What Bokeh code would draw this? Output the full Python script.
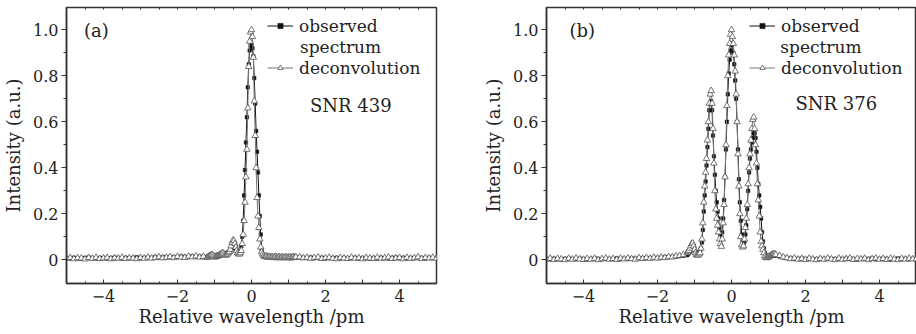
import numpy as np
from bokeh.plotting import figure
from bokeh.layouts import row
from bokeh.models import (FixedTicker, Legend, LegendItem, Label, Range1d, PrintfTickFormatter,
                          LinearAxis)
from bokeh.embed import file_html
from bokeh.resources import INLINE

# ---------------- data ----------------
x_left = np.round(np.arange(-5.0, -1.25, 0.1), 3)      # 38 points
x_center = np.round(np.arange(-1.2, 1.2001, 0.025), 3) # 97 points
x_right = np.round(np.arange(1.3, 5.05, 0.1), 3)       # 38 points

# panel (a)
obs_a_left = [0.008, 0.006, 0.009, 0.007, 0.005, 0.008, 0.010, 0.007, 0.006, 0.008,
              0.009, 0.006, 0.007, 0.010, 0.008, 0.006, 0.009, 0.007, 0.008, 0.011,
              0.007, 0.009, 0.010, 0.008, 0.012, 0.009, 0.011, 0.010, 0.013, 0.011,
              0.012, 0.014, 0.012, 0.013, 0.015, 0.013, 0.014, 0.012]
obs_a_center = [0.012, 0.015, 0.014, 0.018, 0.020, 0.020, 0.018, 0.016,
                0.015, 0.017, 0.020, 0.022, 0.020, 0.018, 0.020, 0.024,
                0.028, 0.030, 0.028, 0.026, 0.025, 0.028, 0.030, 0.033,
                0.036, 0.040, 0.045, 0.050, 0.055, 0.058, 0.055, 0.050,
                0.045, 0.040, 0.035, 0.032, 0.035, 0.060, 0.100, 0.170,
                0.28, 0.39, 0.51, 0.62, 0.75, 0.85, 0.91, 0.93,
                0.935, 0.92, 0.885, 0.79, 0.68, 0.56, 0.47, 0.38,
                0.28, 0.19, 0.11, 0.045, 0.020, 0.015, 0.012, 0.012,
                0.013, 0.014, 0.012, 0.011, 0.013, 0.012, 0.010, 0.012,
                0.011, 0.013, 0.012, 0.010, 0.011, 0.012, 0.010, 0.011,
                0.012, 0.010, 0.011, 0.009, 0.011, 0.010, 0.012, 0.010,
                0.009, 0.011, 0.010, 0.008, 0.010, 0.011, 0.009, 0.010,
                0.011]
obs_a_right = [0.010, 0.009, 0.008, 0.010, 0.007, 0.008, 0.009, 0.006, 0.008, 0.007,
               0.009, 0.006, 0.008, 0.005, 0.007, 0.009, 0.006, 0.008, 0.007, 0.005,
               0.008, 0.006, 0.009, 0.007, 0.006, 0.008, 0.010, 0.007, 0.009, 0.006,
               0.008, 0.007, 0.010, 0.008, 0.006, 0.009, 0.007, 0.008]

dec_a_left = [0.006, 0.009, 0.004, 0.008, 0.007, 0.003, 0.009, 0.006, 0.010, 0.005,
              0.007, 0.009, 0.004, 0.008, 0.006, 0.010, 0.005, 0.008, 0.007, 0.004,
              0.009, 0.006, 0.011, 0.007, 0.009, 0.012, 0.008, 0.010, 0.013, 0.009,
              0.014, 0.011, 0.010, 0.015, 0.012, 0.016, 0.011, 0.014]
dec_a_center = [0.010, 0.012, 0.015, 0.018, 0.020, 0.022, 0.020, 0.016,
                0.012, 0.012, 0.014, 0.016, 0.018, 0.020, 0.022, 0.025,
                0.028, 0.030, 0.025, 0.020, 0.020, 0.022, 0.025, 0.030,
                0.035, 0.045, 0.060, 0.075, 0.085, 0.082, 0.070, 0.055,
                0.040, 0.030, 0.025, 0.025, 0.030, 0.040, 0.070, 0.110,
                0.17, 0.25, 0.36, 0.48, 0.66, 0.84, 0.95, 0.99,
                1.0, 0.97, 0.88, 0.69, 0.54, 0.40, 0.27, 0.19,
                0.14, 0.09, 0.055, 0.035, 0.025, 0.018, 0.015, 0.014,
                0.016, 0.013, 0.011, 0.014, 0.012, 0.010, 0.013, 0.011,
                0.009, 0.012, 0.014, 0.010, 0.008, 0.011, 0.013, 0.009,
                0.010, 0.012, 0.008, 0.011, 0.009, 0.013, 0.010, 0.008,
                0.011, 0.009, 0.012, 0.008, 0.010, 0.013, 0.009, 0.011,
                0.012]
dec_a_right = [0.012, 0.008, 0.010, 0.006, 0.009, 0.011, 0.005, 0.008, 0.010, 0.006,
               0.004, 0.009, 0.007, 0.005, 0.010, 0.006, 0.008, 0.004, 0.009, 0.007,
               0.005, 0.010, 0.006, 0.008, 0.011, 0.005, 0.007, 0.009, 0.004, 0.010,
               0.006, 0.008, 0.012, 0.005, 0.009, 0.007, 0.010, 0.006]

# panel (b)
obs_b_left = [0.004, 0.002, 0.005, 0.003, 0.001, 0.004, 0.006, 0.003, 0.002, 0.005,
              0.004, 0.001, 0.003, 0.006, 0.004, 0.002, 0.005, 0.003, 0.004, 0.006,
              0.003, 0.005, 0.004, 0.006, 0.005, 0.007, 0.006, 0.008, 0.007, 0.009,
              0.008, 0.010, 0.011, 0.012, 0.013, 0.014, 0.016, 0.018]
obs_b_center = [0.020, 0.025, 0.030, 0.035, 0.045, 0.050, 0.050, 0.045,
                0.040, 0.035, 0.030, 0.030, 0.030, 0.035, 0.040, 0.050,
                0.075, 0.13, 0.21, 0.28, 0.34, 0.41, 0.49, 0.57,
                0.65, 0.68, 0.69, 0.65, 0.54, 0.45, 0.37, 0.30,
                0.25, 0.21, 0.18, 0.14, 0.11, 0.10, 0.12, 0.18,
                0.26, 0.36, 0.48, 0.60, 0.72, 0.81, 0.87, 0.91,
                0.935, 0.94, 0.90, 0.85, 0.78, 0.70, 0.60, 0.48,
                0.35, 0.25, 0.17, 0.11, 0.08, 0.07, 0.08, 0.11,
                0.15, 0.22, 0.30, 0.38, 0.44, 0.48, 0.51, 0.53,
                0.55, 0.55, 0.53, 0.47, 0.40, 0.33, 0.28, 0.23,
                0.18, 0.12, 0.08, 0.05, 0.03, 0.02, 0.015, 0.012,
                0.010, 0.012, 0.015, 0.018, 0.020, 0.022, 0.022, 0.020,
                0.018]
obs_b_right = [0.014, 0.010, 0.008, 0.006, 0.005, 0.004, 0.006, 0.003, 0.005, 0.004,
               0.002, 0.005, 0.003, 0.006, 0.004, 0.002, 0.005, 0.003, 0.004, 0.006,
               0.003, 0.001, 0.004, 0.005, 0.003, 0.006, 0.002, 0.004, 0.005, 0.003,
               0.001, 0.004, 0.006, 0.003, 0.005, 0.002, 0.004, 0.003]

dec_b_left = [0.002, 0.006, 0.001, 0.005, 0.003, 0.000, 0.006, 0.002, 0.007, 0.003,
              0.001, 0.005, 0.002, 0.006, 0.000, 0.004, 0.007, 0.002, 0.005, 0.001,
              0.006, 0.003, 0.007, 0.004, 0.002, 0.008, 0.005, 0.009, 0.006, 0.010,
              0.007, 0.011, 0.009, 0.013, 0.012, 0.016, 0.018, 0.022]
dec_b_center = [0.030, 0.035, 0.040, 0.050, 0.060, 0.070, 0.072, 0.060,
                0.045, 0.030, 0.022, 0.020, 0.020, 0.025, 0.030, 0.050,
                0.09, 0.16, 0.25, 0.32, 0.38, 0.44, 0.52, 0.60,
                0.68, 0.72, 0.735, 0.68, 0.57, 0.42, 0.30, 0.22,
                0.18, 0.15, 0.12, 0.09, 0.07, 0.058, 0.09, 0.16,
                0.24, 0.36, 0.50, 0.67, 0.80, 0.89, 0.94, 0.98,
                1.0, 0.97, 0.94, 0.89, 0.82, 0.72, 0.60, 0.46,
                0.32, 0.20, 0.10, 0.065, 0.055, 0.06, 0.09, 0.14,
                0.18, 0.24, 0.33, 0.40, 0.46, 0.52, 0.57, 0.61,
                0.62, 0.57, 0.50, 0.42, 0.33, 0.26, 0.19, 0.12,
                0.08, 0.06, 0.045, 0.03, 0.015, 0.010, 0.008, 0.010,
                0.012, 0.015, 0.018, 0.020, 0.022, 0.025, 0.026, 0.025,
                0.022]
dec_b_right = [0.018, 0.012, 0.008, 0.004, 0.007, 0.002, 0.005, 0.001, 0.006, 0.003,
               0.000, 0.005, 0.002, 0.007, 0.003, 0.000, 0.006, 0.002, 0.004, 0.007,
               0.001, 0.005, 0.003, 0.006, 0.000, 0.004, 0.007, 0.002, 0.005, 0.001,
               0.006, 0.003, 0.000, 0.005, 0.002, 0.006, 0.003, 0.004]

x_major = [-5, -4, -3, -2, -1, 0, 1, 2, 3, 4, 5]
x_minor = [-4.5, -3.5, -2.5, -1.5, -0.5, 0.5, 1.5, 2.5, 3.5, 4.5]
x_labels = {-5: "", -4: "\u22124", -3: "", -2: "\u22122", -1: "", 0: "0",
            1: "", 2: "2", 3: "", 4: "4", 5: ""}
top_labels = {t: "" for t in x_major}
y_major = [0, 0.2, 0.4, 0.6, 0.8, 1.0]
y_minor = [0.1, 0.3, 0.5, 0.7, 0.9]
y_labels = {0: "0"}

panels = [
    dict(tag="(a)", snr="SNR 439",
         obs=obs_a_left + obs_a_center + obs_a_right,
         dec=dec_a_left + dec_a_center + dec_a_right),
    dict(tag="(b)", snr="SNR 376",
         obs=obs_b_left + obs_b_center + obs_b_right,
         dec=dec_b_left + dec_b_center + dec_b_right),
]

FONT = "DejaVu Serif"
TXT = "#222222"
AX = "#333333"
x_all = list(x_left) + list(x_center) + list(x_right)


def make_panel(d, width, border_left, border_right, tag_x, snr_x, snr_y, spec_x, leg_dx):
    p = figure(width=width, height=334, output_backend="svg", toolbar_location=None,
               x_range=Range1d(-5, 5), y_range=Range1d(-0.103, 1.097),
               min_border_left=border_left, min_border_right=border_right,
               min_border_top=7, min_border_bottom=51,
               background_fill_color="white", border_fill_color="white")
    p.outline_line_color = AX
    p.outline_line_width = 1.5
    p.grid.visible = False

    xa = p.xaxis[0]
    xa.ticker = FixedTicker(ticks=x_major, minor_ticks=x_minor)
    xa.major_label_overrides = x_labels
    xa.major_tick_in = 4
    xa.major_tick_out = 0
    xa.minor_tick_in = 2
    xa.minor_tick_out = 0
    xa.axis_line_color = AX
    xa.axis_line_width = 1.5
    xa.major_tick_line_color = AX
    xa.minor_tick_line_color = AX
    xa.major_label_text_font = FONT
    xa.major_label_text_font_size = "16px"
    xa.major_label_text_color = TXT
    xa.major_label_standoff = 6
    xa.axis_label = "Relative wavelength /pm"
    xa.axis_label_text_font = FONT
    xa.axis_label_text_font_size = "18px"
    xa.axis_label_text_font_style = "normal"
    xa.axis_label_text_color = TXT
    xa.axis_label_standoff = 1

    top = LinearAxis(ticker=FixedTicker(ticks=x_major, minor_ticks=x_minor),
                     major_tick_in=2, major_tick_out=0, minor_tick_in=2, minor_tick_out=0,
                     major_label_overrides=top_labels,
                     major_label_text_font_size="2px", major_label_standoff=0,
                     axis_line_color=None, major_tick_line_color=AX,
                     minor_tick_line_color=AX)
    p.add_layout(top, "above")

    ya = p.yaxis[0]
    ya.ticker = FixedTicker(ticks=y_major, minor_ticks=y_minor)
    ya.formatter = PrintfTickFormatter(format="%.1f")
    ya.major_label_overrides = y_labels
    ya.major_tick_in = 0
    ya.major_tick_out = 5
    ya.minor_tick_in = 0
    ya.minor_tick_out = 3
    ya.axis_line_color = AX
    ya.axis_line_width = 1.5
    ya.major_tick_line_color = AX
    ya.minor_tick_line_color = AX
    ya.major_label_text_font = FONT
    ya.major_label_text_font_size = "16px"
    ya.major_label_text_color = TXT
    ya.major_label_standoff = 3
    ya.axis_label = "Intensity (a.u.)"
    ya.axis_label_text_font = FONT
    ya.axis_label_text_font_size = "18px"
    ya.axis_label_text_font_style = "normal"
    ya.axis_label_text_color = TXT
    ya.axis_label_standoff = 6

    obs_line = p.line(x_all, d["obs"], line_color="#111111", line_width=1)
    obs_pts = p.scatter(x_all, d["obs"], marker="square", size=3.5,
                        fill_color="#111111", line_color="#111111", line_width=0.5)
    dec_line = p.line(x_all, d["dec"], line_color="#777777", line_width=1)
    dec_pts = p.scatter(x_all, d["dec"], marker="triangle", size=6.5,
                        fill_color="white", line_color="#555555", line_width=0.8)

    legend = Legend(items=[LegendItem(label="observed", renderers=[obs_line, obs_pts]),
                           LegendItem(label="deconvolution", renderers=[dec_line, dec_pts])],
                    location=(leg_dx, 205), orientation="vertical",
                    padding=0, margin=0, spacing=21, label_height=21, glyph_height=13,
                    glyph_width=26, label_standoff=6,
                    border_line_alpha=0, background_fill_alpha=0,
                    label_text_font=FONT, label_text_font_size="17px",
                    label_text_color=TXT)
    p.add_layout(legend)

    p.add_layout(Label(x=spec_x, y=0.925, text="spectrum", text_font=FONT,
                       text_font_size="17px", text_color=TXT, text_baseline="alphabetic"))
    p.add_layout(Label(x=tag_x, y=0.995, text=d["tag"], text_font=FONT,
                       text_font_size="18px", text_color=TXT, text_baseline="alphabetic"))
    p.add_layout(Label(x=snr_x, y=snr_y, text=d["snr"], text_font=FONT,
                       text_font_size="18px", text_color=TXT, text_baseline="alphabetic"))
    return p


pa = make_panel(panels[0], 456, 66, 20, -4.53, 1.58, 0.672, 1.31, 201)
pb = make_panel(panels[1], 460, 90, 0, -4.38, 1.73, 0.681, 1.32, 203)

layout = row(pa, pb, spacing=0)
open("out.html", "w").write(file_html(layout, INLINE))
